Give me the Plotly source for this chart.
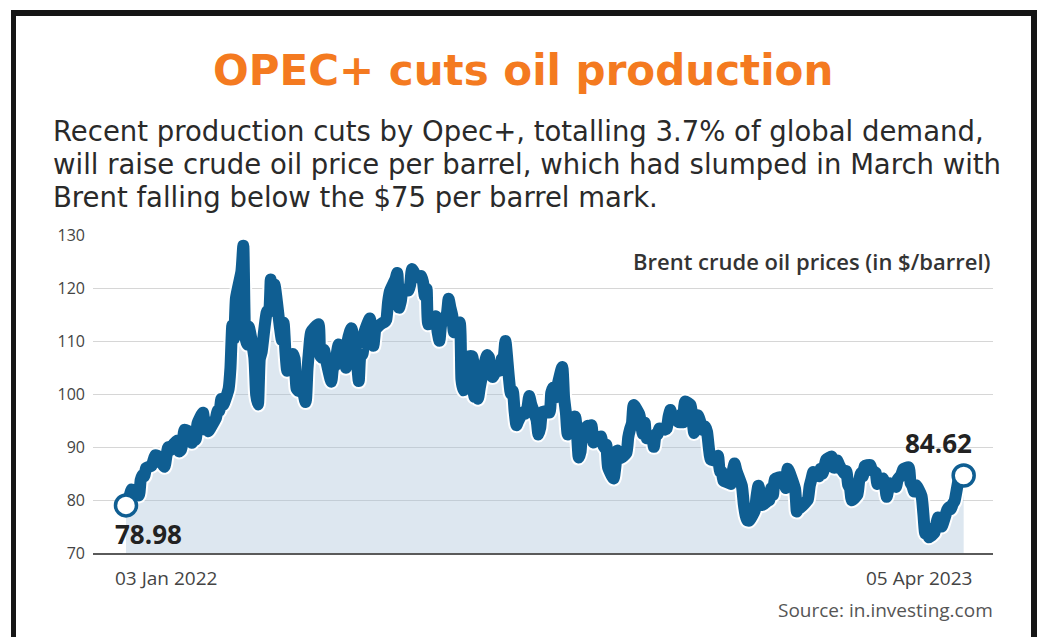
import plotly.graph_objects as go
import pandas as pd

# ---------------- data (Brent, $/barrel), (day, price) per month ----------------
jan_2022 = [(3,78.98),(4,80.00),(5,80.80),(6,81.99),(7,81.75),(10,80.87),(11,83.72),(12,84.67),(13,84.47),(14,86.06),(17,86.48),(18,87.51),(19,88.44),(20,88.38),(21,87.89),(24,86.27),(25,88.20),(26,89.96),(27,89.34),(28,90.03),(31,91.21)]
feb_2022 = [(1,89.16),(2,89.47),(3,91.11),(4,93.27),(7,92.69),(8,90.78),(9,91.55),(10,91.41),(11,94.44),(14,96.48),(15,93.28),(16,94.81),(17,92.97),(18,93.54),(21,95.39),(22,96.84),(23,96.84),(24,99.08),(25,97.93),(28,100.99)]
mar_2022 = [(1,104.97),(2,112.93),(3,110.46),(4,118.11),(7,123.21),(8,127.98),(9,111.14),(10,109.33),(11,112.67),(14,106.90),(15,99.91),(16,98.02),(17,106.64),(18,107.93),(21,115.62),(22,115.48),(23,121.60),(24,119.03),(25,120.65),(28,112.48),(29,110.23),(30,113.45),(31,107.91)]
apr_2022 = [(1,104.39),(4,107.53),(5,106.64),(6,101.07),(7,100.58),(8,102.78),(11,98.48),(12,104.64),(13,108.78),(14,111.70),(18,113.16),(19,107.25),(20,106.80),(21,108.33),(22,106.65),(25,102.32),(26,104.99),(27,105.32),(28,107.59),(29,109.34)]
may_2022 = [(2,107.58),(3,104.97),(4,110.14),(5,111.55),(6,112.39),(9,105.94),(10,102.46),(11,107.51),(12,107.45),(13,111.55),(16,114.24),(17,111.93),(18,109.11),(19,112.04),(20,112.55),(23,113.42),(24,113.56),(25,114.03),(26,117.40),(27,119.43),(30,121.67),(31,122.84)]
jun_2022 = [(1,116.29),(2,117.61),(3,119.72),(6,119.51),(7,120.57),(8,123.58),(9,123.07),(10,122.01),(13,122.27),(14,121.17),(15,118.51),(16,119.81),(17,113.12),(20,114.13),(21,114.65),(22,111.74),(23,110.05),(24,113.12),(27,115.09),(28,117.98),(29,116.26),(30,114.81)]
jul_2022 = [(1,111.63),(4,113.50),(5,102.77),(6,100.69),(7,104.65),(8,107.02),(11,107.10),(12,99.49),(13,99.57),(14,99.10),(15,101.16),(18,106.27),(19,107.35),(20,106.92),(21,103.86),(22,103.20),(25,105.15),(26,104.40),(27,106.62),(28,106.94),(29,110.01)]
aug_2022 = [(1,100.03),(2,100.54),(3,96.78),(4,94.12),(5,94.92),(8,96.65),(9,96.31),(10,97.40),(11,99.60),(12,98.15),(15,95.10),(16,92.34),(17,93.65),(18,96.59),(19,96.72),(22,96.48),(23,100.22),(24,101.22),(25,99.34),(26,100.99),(29,105.09),(30,99.31),(31,96.49)]
sep_2022 = [(1,92.36),(2,93.02),(5,95.74),(6,92.83),(7,88.00),(8,89.15),(9,92.84),(12,94.00),(13,93.17),(14,94.10),(15,90.84),(16,91.35),(19,92.00),(20,90.62),(21,89.83),(22,90.46),(23,86.15),(26,84.06),(27,86.27),(28,89.32),(29,88.49),(30,87.96)]
oct_2022 = [(3,88.86),(4,91.80),(5,93.37),(6,94.42),(7,97.92),(10,96.19),(11,94.29),(12,92.45),(13,94.57),(14,91.63),(17,91.62),(18,90.03),(19,92.41),(20,92.38),(21,93.50),(24,93.26),(25,93.52),(26,95.69),(27,96.96),(28,95.77),(31,94.83)]
nov_2022 = [(1,94.65),(2,96.16),(3,94.67),(4,98.57),(7,97.92),(8,95.36),(9,92.65),(10,93.67),(11,95.99),(14,93.14),(15,93.86),(16,92.86),(17,89.78),(18,87.62),(21,87.45),(22,88.36),(23,85.41),(24,85.34),(25,83.63),(28,83.19),(29,83.03),(30,85.43)]
dec_2022 = [(1,86.88),(2,85.57),(5,82.68),(6,79.35),(7,77.17),(8,76.15),(9,76.10),(12,77.99),(13,80.68),(14,82.70),(15,81.21),(16,79.04),(19,79.80),(20,79.99),(21,82.20),(22,80.98),(23,83.92),(27,84.33),(28,83.26),(29,82.26),(30,85.91)]
jan_2023 = [(3,82.10),(4,77.84),(5,78.69),(6,78.57),(9,79.65),(10,80.10),(11,82.67),(12,84.03),(13,85.28),(16,84.46),(17,85.92),(18,84.98),(19,86.16),(20,87.63),(23,88.19),(24,86.13),(25,86.12),(26,87.47),(27,86.66),(30,84.90),(31,85.46)]
feb_2023 = [(1,82.84),(2,82.17),(3,79.94),(6,80.99),(7,83.69),(8,85.09),(9,84.50),(10,86.39),(13,86.61),(14,85.58),(15,85.38),(16,85.14),(17,83.00),(20,84.07),(21,83.05),(22,80.60),(23,82.21),(24,83.16),(27,82.45),(28,83.89)]
mar_2023 = [(1,84.31),(2,84.75),(3,85.83),(6,86.18),(7,83.29),(8,82.66),(9,81.59),(10,82.78),(13,80.77),(14,77.45),(15,73.69),(16,74.70),(17,72.97),(20,73.79),(21,75.32),(22,76.69),(23,75.91),(24,74.99),(27,78.12),(28,78.65),(29,78.28),(30,79.27),(31,79.77)]
apr_2023 = [(3,84.93),(4,84.94),(5,84.62)]

monthly = [
    (2022, 1, jan_2022), (2022, 2, feb_2022), (2022, 3, mar_2022), (2022, 4, apr_2022),
    (2022, 5, may_2022), (2022, 6, jun_2022), (2022, 7, jul_2022), (2022, 8, aug_2022),
    (2022, 9, sep_2022), (2022, 10, oct_2022), (2022, 11, nov_2022), (2022, 12, dec_2022),
    (2023, 1, jan_2023), (2023, 2, feb_2023), (2023, 3, mar_2023), (2023, 4, apr_2023),
]

y_ticks = [70, 80, 90, 100, 110, 120, 130]
title_text = "OPEC+ cuts oil production"
subtitle_lines = [
    "Recent production cuts by Opec+, totalling 3.7% of global demand,",
    "will raise crude oil price per barrel, which had slumped in March with",
    "Brent falling below the $75 per barrel mark.",
]
series_label = "Brent crude oil prices (in $/barrel)"
start_label = "03 Jan 2022"
end_label = "05 Apr 2023"
source_text = "Source: in.investing.com"

dates, prices = [], []
for yr, mo, rows in monthly:
    for d, p in rows:
        dates.append(pd.Timestamp(yr, mo, d))
        prices.append(p)

# ---------------- layout geometry ----------------
W, H = 1042, 637
L, R, T, B = 93, 993, 235, 553


def px(x):
    return (x - L) / (R - L)


def py(y):
    return (B - y) / (B - T)


LINE = "#0f5e92"
FILL = "rgba(165,193,215,0.38)"
SMOOTH = dict(shape="spline", smoothing=0.5)

fig = go.Figure()
fig.add_trace(go.Scatter(x=dates, y=prices, mode="lines", line=dict(width=0, **SMOOTH),
                         fill="tozeroy", fillcolor=FILL, hoverinfo="skip", showlegend=False))
fig.add_trace(go.Scatter(x=dates, y=prices, mode="lines",
                         line=dict(width=16, color="rgba(255,255,255,0.95)", **SMOOTH),
                         hoverinfo="skip", showlegend=False))
fig.add_trace(go.Scatter(x=dates, y=prices, mode="lines", line=dict(width=12, color=LINE, **SMOOTH),
                         showlegend=False))
fig.add_trace(go.Scatter(x=[dates[0], dates[-1]], y=[prices[0], prices[-1]], mode="markers",
                         marker=dict(size=21, color="white", line=dict(width=3.5, color=LINE)),
                         cliponaxis=False, showlegend=False))

annotations = [
    dict(text=f"<b>{title_text}</b>", x=px(523), y=py(70), xref="paper", yref="paper",
         xanchor="center", yanchor="middle", showarrow=False,
         font=dict(family="DejaVu Sans", size=42, color="#f47a20")),
]
for line, yy in zip(subtitle_lines, [131, 164, 197]):
    annotations.append(dict(text=line, x=px(51), y=py(yy), xref="paper", yref="paper",
                            xanchor="left", yanchor="middle", showarrow=False,
                            font=dict(family="DejaVu Sans", size=27.5, color="#2a2a2a")))
annotations += [
    dict(text=series_label, x=px(993), y=py(261), xref="paper", yref="paper", xanchor="right",
         yanchor="middle", showarrow=False,
         font=dict(family="Open Sans", size=22, color="#333333", weight=600)),
    dict(text=start_label, x=dates[0], y=py(578), xref="x", yref="paper", xanchor="left", xshift=-13,
         yanchor="middle", showarrow=False, font=dict(family="Open Sans", size=19, color="#444444")),
    dict(text=end_label, x=dates[-1], y=py(578), xref="x", yref="paper", xanchor="right", xshift=10,
         yanchor="middle", showarrow=False, font=dict(family="Open Sans", size=19, color="#444444")),
    dict(text=source_text, x=px(995), y=py(610), xref="paper", yref="paper", xanchor="right",
         yanchor="middle", showarrow=False, font=dict(family="Open Sans", size=19, color="#555555")),
    dict(text=f"<b>{prices[0]:.2f}</b>", x=dates[0], y=prices[0], xref="x", yref="y", xanchor="left",
         xshift=-13, yshift=-29, yanchor="middle", showarrow=False,
         font=dict(family="Open Sans", size=26, color="#222222")),
    dict(text=f"<b>{prices[-1]:.2f}</b>", x=dates[-1], y=prices[-1], xref="x", yref="y", xanchor="right",
         xshift=10, yshift=33, yanchor="middle", showarrow=False,
         font=dict(family="Open Sans", size=26, color="#222222")),
]

shapes = [
    dict(type="rect", xref="paper", yref="paper", x0=px(11), x1=px(1037), y0=py(16), y1=py(10),
         fillcolor="#151515", line=dict(width=0), layer="above"),
    dict(type="rect", xref="paper", yref="paper", x0=px(11), x1=px(16), y0=py(640), y1=py(10),
         fillcolor="#151515", line=dict(width=0), layer="above"),
    dict(type="rect", xref="paper", yref="paper", x0=px(1031), x1=px(1037), y0=py(640), y1=py(10),
         fillcolor="#151515", line=dict(width=0), layer="above"),
]

fig.update_layout(
    width=W, height=H,
    margin=dict(l=L, r=W - R, t=T, b=H - B, pad=0),
    paper_bgcolor="white", plot_bgcolor="white",
    showlegend=False,
    annotations=annotations,
    shapes=shapes,
    xaxis=dict(range=[pd.Timestamp(2021, 12, 16), pd.Timestamp(2023, 4, 21)], showgrid=False,
               showticklabels=False, ticks="", zeroline=False, showline=True,
               linecolor="#5a5a5a", linewidth=2),
    yaxis=dict(range=[70, 130], tickvals=y_ticks, ticktext=[str(v) for v in y_ticks],
               showgrid=True, gridcolor="#d6d6d6", gridwidth=1.2, zeroline=False,
               showline=False, ticks="", ticklabelstandoff=7,
               tickfont=dict(family="Open Sans", size=16, color="#444444")),
)

fig.write_html("out.html")
